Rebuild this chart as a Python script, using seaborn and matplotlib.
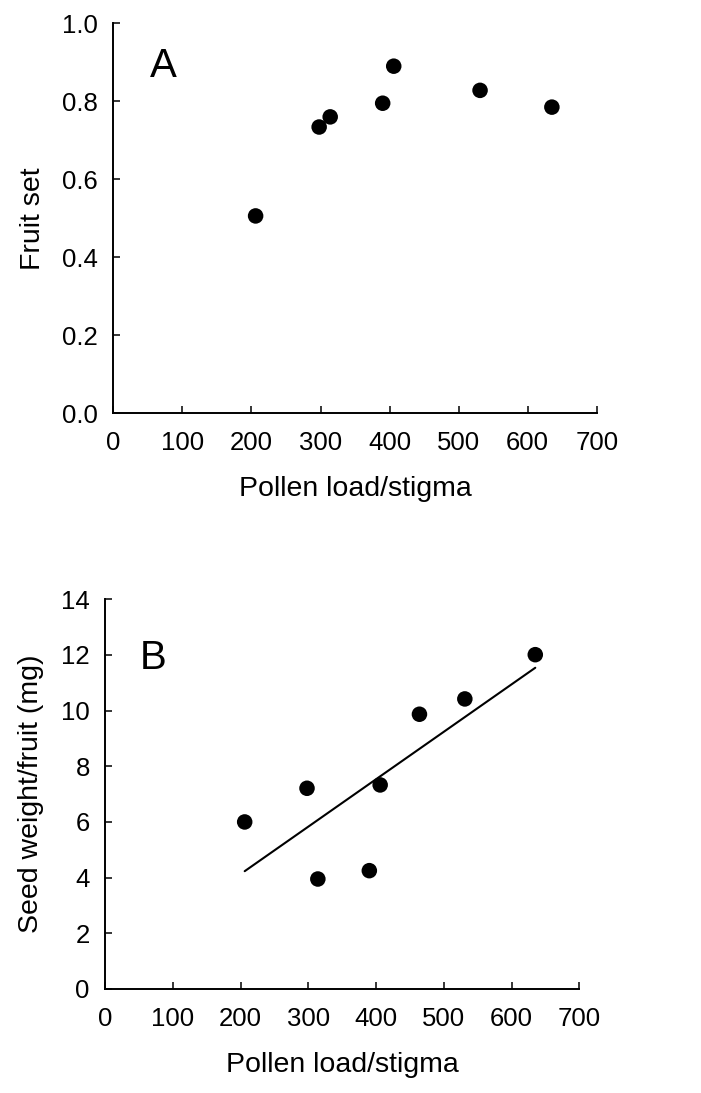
import matplotlib
matplotlib.use("Agg")
import matplotlib.pyplot as plt
import seaborn as sns
import numpy as np
import pandas as pd

# Data
pollen_a = [206, 298, 314, 390, 406, 531, 635]
fruit_set = [0.506, 0.734, 0.760, 0.795, 0.890, 0.828, 0.785]

pollen_b = [206, 298, 314, 390, 406, 464, 531, 635]
seed_weight = [6.00, 7.21, 3.95, 4.25, 7.33, 9.87, 10.42, 12.01]

x_ticks = [0, 100, 200, 300, 400, 500, 600, 700]
ya_ticks = [0.0, 0.2, 0.4, 0.6, 0.8, 1.0]
yb_ticks = [0, 2, 4, 6, 8, 10, 12, 14]

sns.set_theme(style="ticks")
plt.rcParams['font.family'] = ['Liberation Sans', 'DejaVu Sans']
plt.rcParams['text.color'] = 'black'
plt.rcParams['axes.labelcolor'] = 'black'

fig = plt.figure(figsize=(7.01, 10.93), dpi=100)
axA = fig.add_axes([0.1617, 0.6219, 0.6896, 0.3568])
axB = fig.add_axes([0.1500, 0.0952, 0.6764, 0.3565])

dfA = pd.DataFrame({"x": pollen_a, "y": fruit_set})
dfB = pd.DataFrame({"x": pollen_b, "y": seed_weight})

sns.scatterplot(data=dfA, x="x", y="y", ax=axA, color="black", s=125,
                edgecolor="none", alpha=1, zorder=3)
sns.regplot(data=dfB, x="x", y="y", ax=axB, ci=None, color="black",
            scatter_kws=dict(s=125, edgecolor="none", alpha=1, zorder=3),
            line_kws=dict(lw=1.5, zorder=2))

tick_fs = 18.5
label_fs = 20.5
for ax, yt, ylab, fmt in [(axA, ya_ticks, "Fruit set", "{:.1f}"),
                          (axB, yb_ticks, "Seed weight/fruit (mg)", "{:d}")]:
    ax.set_xlim(0, 700)
    ax.set_xticks(x_ticks)
    ax.set_xticklabels([str(t) for t in x_ticks], fontsize=tick_fs)
    ax.set_ylim(yt[0], yt[-1])
    ax.set_yticks(yt)
    ax.set_yticklabels([fmt.format(t) for t in yt], fontsize=tick_fs)
    ax.set_xlabel("Pollen load/stigma", fontsize=label_fs, labelpad=15)
    ax.set_ylabel(ylab, fontsize=label_fs, labelpad=12)
    for s in ["top", "right"]:
        ax.spines[s].set_visible(False)
    for s in ["left", "bottom"]:
        ax.spines[s].set_linewidth(1.4)
        ax.spines[s].set_color("black")
    ax.tick_params(axis="x", direction="in", length=5, width=1.1,
                   colors="black", pad=13, labelsize=tick_fs)
    ax.tick_params(axis="y", direction="in", length=5, width=1.1,
                   colors="black", pad=11, labelsize=tick_fs)
    ax.set_facecolor("white")

axA.text(0.075, 0.862, "A", transform=axA.transAxes, fontsize=29,
         va="baseline", ha="left")
axB.text(0.072, 0.821, "B", transform=axB.transAxes, fontsize=29,
         va="baseline", ha="left")

fig.savefig("out.png", dpi=100, facecolor="white")
